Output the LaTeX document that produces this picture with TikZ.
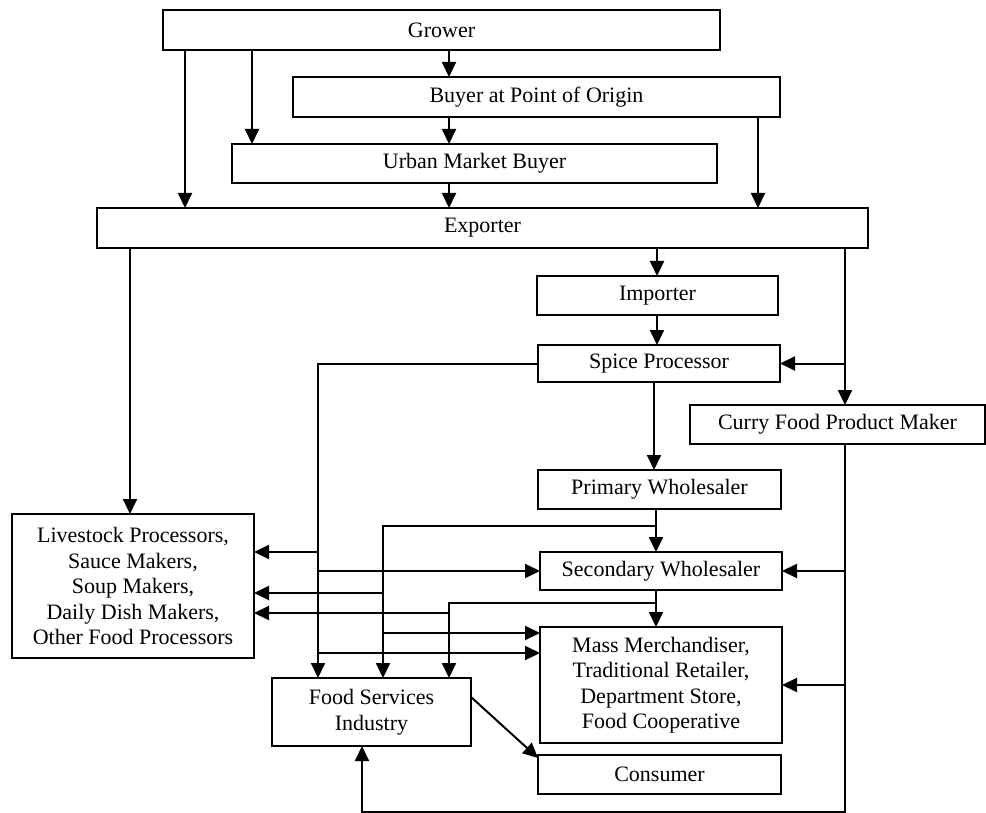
\documentclass[tikz,border=0pt]{standalone}
\usepackage{fontspec}
\setmainfont{Liberation Serif}
\usetikzlibrary{arrows.meta,calc}
\begin{document}
\begin{tikzpicture}[x=1pt,y=-1pt,
  box/.style={draw,line width=2pt,inner sep=0pt,outer sep=0pt,align=center,
    font=\fontsize{22}{25.5}\selectfont},
  ln/.style={line width=2pt},
  arr/.style={ln,-{Triangle[width=14pt,length=15pt]}}]
\useasboundingbox (0,0) rectangle (986,813);
% boxes
\node[box,minimum width=557pt,minimum height=40pt] (grower) at (441.5,30) {Grower};
\node[box,minimum width=487pt,minimum height=40pt] (buyer) at (536.5,97) {Buyer at Point of Origin};
\node[box,minimum width=485pt,minimum height=39pt] (urban) at (474.5,163.5) {Urban Market Buyer};
\node[box,minimum width=771pt,minimum height=40pt] (exporter) at (482.5,228) {Exporter};
\node[box,minimum width=241pt,minimum height=39pt] (importer) at (657.5,295.5) {Importer};
\node[box,minimum width=242pt,minimum height=37pt] (spice) at (659,363.5) {Spice Processor};
\node[box,minimum width=295pt,minimum height=39pt] (curry) at (837.5,424.5) {Curry Food Product Maker};
\node[box,minimum width=243pt,minimum height=39pt] (primary) at (659.5,489.5) {Primary Wholesaler};
\node[box,minimum width=242pt,minimum height=38pt] (secondary) at (661,571) {Secondary Wholesaler};
\node[box,minimum width=242pt,minimum height=116pt] (mass) at (661,685) {Mass Merchandiser,\\Traditional Retailer,\\Department Store,\\Food Cooperative};
\node[box,minimum width=243pt,minimum height=39pt] (consumer) at (659.5,774.5) {Consumer};
\node[box,minimum width=199pt,minimum height=68pt] (foodserv) at (371.5,712) {Food Services\\Industry};
\node[box,minimum width=242pt,minimum height=144pt] (livestock) at (133,586) {Livestock Processors,\\Sauce Makers,\\Soup Makers,\\Daily Dish Makers,\\Other Food Processors};
% top connectors
\draw[arr] (185,0 |- grower.south) -- (185,0 |- exporter.north);
\draw[arr] (252,0 |- grower.south) -- (252,0 |- urban.north);
\draw[arr] (449,0 |- grower.south) -- (449,0 |- buyer.north);
\draw[arr] (449,0 |- buyer.south) -- (449,0 |- urban.north);
\draw[arr] (449,0 |- urban.south) -- (449,0 |- exporter.north);
\draw[arr] (758,0 |- buyer.south) -- (758,0 |- exporter.north);
\draw[arr] (657,0 |- exporter.south) -- (657,0 |- importer.north);
\draw[arr] (657,0 |- importer.south) -- (657,0 |- spice.north);
\draw[arr] (654,0 |- spice.south) -- (654,0 |- primary.north);
\draw[arr] (130,0 |- exporter.south) -- (130,0 |- livestock.north);
% right bus
\draw[arr] (845,0 |- exporter.south) -- (845,0 |- curry.north);
\draw[arr] (845,0 |- spice.east) -- (spice.east);
\draw[arr] (845,0 |- curry.south) -- (845,811.5) -- (362,811.5) -- (362,0 |- foodserv.south);
\draw[arr] (845,0 |- secondary.east) -- (secondary.east);
\draw[arr] (845,0 |- mass.east) -- (mass.east);
% spice processor bus
\coordinate (sb) at (318,0);
\draw[arr] (spice.west) -- (sb |- spice.west) -- (sb |- foodserv.north);
\coordinate (s1) at (318,552);
\draw[arr] (s1) -- (livestock.east |- s1);
\draw[arr] (sb |- secondary.west) -- (secondary.west);
\coordinate (s3) at (318,653);
\draw[arr] (s3) -- (mass.west |- s3);
% primary wholesaler bus
\draw[arr] (656,0 |- primary.south) -- (656,0 |- secondary.north);
\coordinate (p0) at (656,526);
\draw[arr] (p0) -- (383,526) -- (383,0 |- foodserv.north);
\coordinate (p1) at (383,593);
\draw[arr] (p1) -- (livestock.east |- p1);
\coordinate (p2) at (383,633);
\draw[arr] (p2) -- (mass.west |- p2);
% secondary wholesaler bus
\draw[arr] (656,0 |- secondary.south) -- (656,0 |- mass.north);
\coordinate (q0) at (656,603);
\draw[arr] (q0) -- (449,603) -- (449,0 |- foodserv.north);
\coordinate (q1) at (449,613);
\draw[arr] (q1) -- (livestock.east |- q1);
% food services to consumer
\draw[arr] (foodserv.east |- 0,697) -- ($(consumer.north west)+(0,3)$);
\end{tikzpicture}
\end{document}
